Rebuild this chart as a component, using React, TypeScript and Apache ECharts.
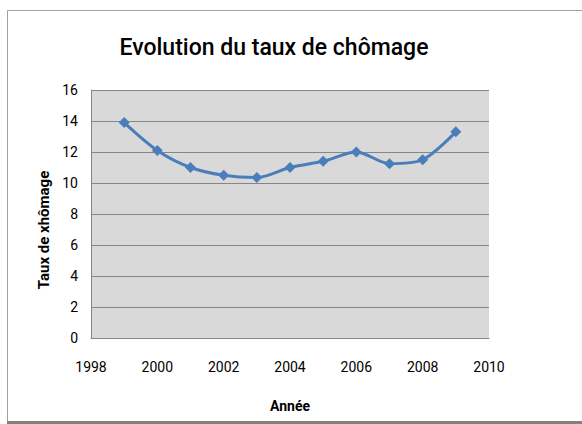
import React, { useEffect, useRef } from "react";
import * as echarts from "echarts";

const years = [1999, 2000, 2001, 2002, 2003, 2004, 2005, 2006, 2007, 2008, 2009];
const rates = [13.9, 12.1, 11.0, 10.5, 10.35, 11.0, 11.4, 12.0, 11.25, 11.5, 13.3];
const titleText = "Evolution du taux de chômage";
const xName = "Année";
const yName = "Taux de xhômage";

const FONT = "Roboto, 'Open Sans', sans-serif";

export default function App() {
  const ref = useRef<HTMLDivElement>(null);
  useEffect(() => {
    if (!ref.current) return;
    const chart = echarts.init(ref.current, undefined, { renderer: "svg" });
    chart.setOption({
      animation: false,
      backgroundColor: "#ffffff",
      textStyle: { fontFamily: FONT },
      title: {
        text: titleText,
        left: 269,
        top: 31,
        textAlign: "center",
        textStyle: { fontFamily: FONT, fontSize: 23, fontWeight: 500, color: "#000" },
      },
      graphic: [
        {
          type: "rect",
          shape: { x: 7.5, y: 10.5, width: 600, height: 411 },
          style: { fill: "none", stroke: "#a0a0a0", lineWidth: 1 },
          silent: true,
        },
        {
          type: "line",
          shape: { x1: 7, y1: 422.5, x2: 582, y2: 422.5 },
          style: { stroke: "#808080", lineWidth: 3 },
          silent: true,
        },
      ],
      grid: {
        left: 91,
        right: 93,
        top: 90,
        bottom: 86,
        show: true,
        backgroundColor: "#d9d9d9",
        borderWidth: 0,
      },
      xAxis: {
        type: "value",
        min: 1998,
        max: 2010,
        interval: 2,
        name: xName,
        nameLocation: "middle",
        nameGap: 61,
        nameTextStyle: { fontFamily: FONT, fontSize: 14, fontWeight: "bold", color: "#000" },
        axisLine: { show: true, lineStyle: { color: "#868686", width: 1 } },
        axisTick: { show: false },
        splitLine: { show: false },
        axisLabel: {
          fontFamily: FONT,
          fontSize: 14,
          color: "#000",
          margin: 22,
          formatter: (v: number) => String(v),
        },
      },
      yAxis: {
        type: "value",
        min: 0,
        max: 16,
        interval: 2,
        name: yName,
        nameLocation: "middle",
        nameGap: 38,
        nameRotate: 90,
        nameTextStyle: {
          fontFamily: FONT,
          fontSize: 15,
          fontWeight: "bold",
          color: "#000",
          padding: [0, 32, 0, 0],
        },
        axisLine: { show: true, lineStyle: { color: "#868686", width: 1 } },
        axisTick: { show: false },
        splitLine: { show: true, lineStyle: { color: "#868686", width: 1 } },
        axisLabel: { fontFamily: FONT, fontSize: 14, color: "#000", margin: 13 },
      },
      series: [
        {
          type: "line",
          data: years.map((y, i) => [y, rates[i]]),
          smooth: 0.3,
          symbol: "diamond",
          symbolSize: 11,
          lineStyle: { color: "#4a7ebb", width: 3 },
          itemStyle: { color: "#4a7ebb" },
        },
      ],
    });
    return () => chart.dispose();
  }, []);
  return (
    <div
      ref={ref}
      style={{ position: "fixed", left: 0, top: 0, width: 582, height: 424 }}
    />
  );
}
